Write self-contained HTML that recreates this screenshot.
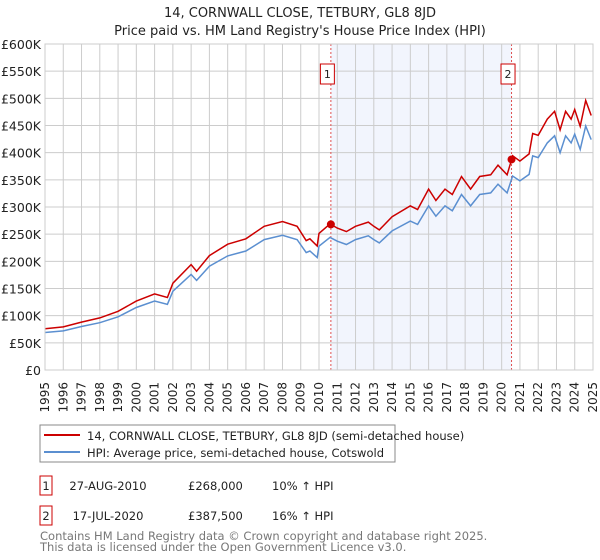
<!DOCTYPE html>
<html><head><meta charset="utf-8"><style>
body{margin:0;background:#fff;font-family:"Liberation Sans","DejaVu Sans",sans-serif;}
#wrap{position:relative;width:600px;height:560px;overflow:hidden;}
svg text{font-family:"DejaVu Sans","Liberation Sans",sans-serif;}
</style></head><body><div id="wrap">
<svg id="c" width="600" height="560"></svg>
</div>
<script>
const hpiYears=[1995,1996,1997,1998,1999,2000,2001,2001.7,2002,2003,2003.3,2004,2005,2006,2007,2008,2008.8,2009.3,2009.5,2009.9,2010,2010.6,2011,2011.5,2012,2012.7,2013,2013.3,2014,2015,2015.4,2016,2016.4,2016.9,2017.3,2017.8,2018.3,2018.8,2019.4,2019.8,2020.3,2020.6,2021,2021.5,2021.7,2022,2022.5,2022.9,2023.2,2023.5,2023.8,2024,2024.3,2024.6,2024.9];
const hpiValues=[69,72,80,87,98,115,127,121,145,176,165,191,210,219,240,248,240,216,219,207,228,244,237,231,240,247,240,234,256,274,268,302,283,302,293,323,302,323,326,342,326,357,348,360,394,391,418,431,400,431,418,434,406,449,424];
const saleYears=[2010.65,2020.54];
const salePrices=[268,387.5];
const saleLabels=["1","2"];
const yTicks=[0,50,100,150,200,250,300,350,400,450,500,550,600];
const yTickLabels=["£0","£50K","£100K","£150K","£200K","£250K","£300K","£350K","£400K","£450K","£500K","£550K","£600K"];
const xTicks=[1995,1996,1997,1998,1999,2000,2001,2002,2003,2004,2005,2006,2007,2008,2009,2010,2011,2012,2013,2014,2015,2016,2017,2018,2019,2020,2021,2022,2023,2024,2025];

const L=45,R=593,T=44,B=370;
const X=y=>L+(y-1995)/30*(R-L);
const Y=v=>B-v/600*(B-T);
const NS="http://www.w3.org/2000/svg";
const svg=document.getElementById('c');
function mk(tag,attrs,parent){const e=document.createElementNS(NS,tag);for(const k in attrs)e.setAttribute(k,attrs[k]);(parent||svg).appendChild(e);return e;}
function hpiAt(t){for(let i=0;i<hpiYears.length-1;i++){if(t>=hpiYears[i]&&t<=hpiYears[i+1]){const f=(t-hpiYears[i])/(hpiYears[i+1]-hpiYears[i]);return hpiValues[i]+f*(hpiValues[i+1]-hpiValues[i]);}}return hpiValues[hpiValues.length-1];}

let t=mk('text',{x:300,y:17,'text-anchor':'middle','font-size':13,fill:'#222'});t.textContent="14, CORNWALL CLOSE, TETBURY, GL8 8JD";


t=mk('text',{x:300,y:35,'text-anchor':'middle','font-size':13,fill:'#222'});t.textContent="Price paid vs. HM Land Registry's House Price Index (HPI)";



let sh=mk('rect',{x:X(saleYears[0]),y:T,width:X(saleYears[1])-X(saleYears[0]),height:B-T,fill:'#f2f5fd'});



yTicks.forEach((v,i)=>{
 const g=mk('line',{x1:L,x2:R,y1:Y(v),y2:Y(v),stroke:'#cccccc','stroke-width':1});
 
 
 const lb=mk('text',{x:L-4,y:Y(v)+5,'text-anchor':'end','font-size':12.5,fill:'#222'});lb.textContent=yTickLabels[i];
 
 
});
xTicks.forEach(yr=>{
 const g=mk('line',{x1:X(yr),x2:X(yr),y1:T,y2:B,stroke:'#cccccc','stroke-width':1});
 
 
 const lb=mk('text',{x:0,y:0,'text-anchor':'end','font-size':12,fill:'#222',transform:`translate(${X(yr)+4},${B+12}) rotate(-90)`});lb.textContent=yr;
 
 
});

saleYears.forEach((sy,i)=>{
 const l=mk('line',{x1:X(sy),x2:X(sy),y1:T,y2:B,stroke:'#e05050','stroke-width':1,'stroke-dasharray':'2,2'});
 
 
 const bx=mk('rect',{x:X(sy)-10.5,y:64,width:14,height:20,fill:'#fff',stroke:'#cc0000'});
 
 
 const tx=mk('text',{x:X(sy)-3.5,y:78,'text-anchor':'middle','font-size':11,fill:'#222'});tx.textContent=saleLabels[i];
 
 
});

let d=hpiYears.map((yr,i)=>(i?'L':'M')+X(yr).toFixed(1)+','+Y(hpiValues[i]).toFixed(1)).join('');
let hp=mk('path',{d:d,fill:'none',stroke:'#5b8fd0','stroke-width':1.5});



const r1=salePrices[0]/hpiAt(saleYears[0]), r2=salePrices[1]/hpiAt(saleYears[1]);
let pts=[];
hpiYears.forEach((yr,i)=>{ if(yr<saleYears[1]) pts.push([yr,hpiValues[i]*r1]); });
pts.push([saleYears[1],hpiAt(saleYears[1])*r1]);
pts.push([saleYears[1],salePrices[1]]);
hpiYears.forEach((yr,i)=>{ if(yr>saleYears[1]) pts.push([yr,hpiValues[i]*r2]); });
d=pts.map((p,i)=>(i?'L':'M')+X(p[0]).toFixed(1)+','+Y(p[1]).toFixed(1)).join('');
let pp=mk('path',{d:d,fill:'none',stroke:'#cc0000','stroke-width':1.5});



saleYears.forEach((sy,i)=>{
 const c=mk('circle',{cx:X(sy),cy:Y(salePrices[i]),r:4,fill:'#cc0000'});
 
 
});

let fr=mk('rect',{x:L,y:T,width:R-L,height:B-T,fill:'none',stroke:'#cccccc'});



const lg=mk('g',{});


mk('rect',{x:40,y:425,width:355,height:37,fill:'#fff',stroke:'#888'},lg);
mk('line',{x1:44,x2:80,y1:435,y2:435,stroke:'#cc0000','stroke-width':2},lg);
mk('line',{x1:44,x2:80,y1:452,y2:452,stroke:'#5b8fd0','stroke-width':2},lg);
t=mk('text',{x:87,y:440,'font-size':11.5,fill:'#222'},lg);t.textContent="14, CORNWALL CLOSE, TETBURY, GL8 8JD (semi-detached house)";


t=mk('text',{x:87,y:457,'font-size':11.5,fill:'#222'},lg);t.textContent="HPI: Average price, semi-detached house, Cotswold";



const rows=[["1","27-AUG-2010","£268,000","10% ↑ HPI",476],["2","17-JUL-2020","£387,500","16% ↑ HPI",506]];
rows.forEach(r=>{
 const g=mk('g',{});
 
 
 mk('rect',{x:40,y:r[4],width:12,height:19,fill:'#fff',stroke:'#cc0000'},g);
 let a=mk('text',{x:46,y:r[4]+14,'text-anchor':'middle','font-size':11.5,fill:'#222'},g);a.textContent=r[0];
 a=mk('text',{x:108,y:r[4]+14,'text-anchor':'middle','font-size':11.5,fill:'#222'},g);a.textContent=r[1];
 a=mk('text',{x:188,y:r[4]+14,'font-size':11.5,fill:'#222'},g);a.textContent=r[2];
 a=mk('text',{x:272,y:r[4]+14,'font-size':11.5,fill:'#222'},g);a.textContent=r[3];
});
t=mk('text',{x:40,y:540,'font-size':11.5,fill:'#777'});t.textContent="Contains HM Land Registry data © Crown copyright and database right 2025.";


t=mk('text',{x:40,y:551,'font-size':11.5,fill:'#777'});t.textContent="This data is licensed under the Open Government Licence v3.0.";


</script></body></html>
